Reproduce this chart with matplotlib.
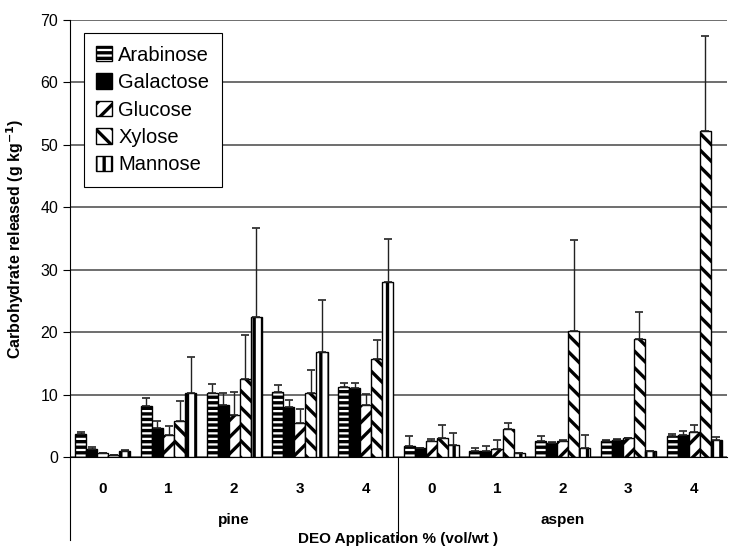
import numpy as np
import matplotlib
matplotlib.use('Agg')
import matplotlib.pyplot as plt
from matplotlib.transforms import blended_transform_factory

plt.rcParams['font.family'] = ['Liberation Sans', 'DejaVu Sans']
plt.rcParams['hatch.linewidth'] = 2.4
plt.rcParams['hatch.color'] = 'black'

# groups: pine 0-4, aspen 0-4
woods = ['pine', 'aspen']
doses = ['0', '1', '2', '3', '4']
sugars = ['Arabinose', 'Galactose', 'Glucose', 'Xylose', 'Mannose']

arabinose = [3.7, 8.1, 10.3, 10.4, 11.2, 1.7, 1.0, 2.5, 2.6, 3.4]
galactose = [1.3, 4.7, 8.4, 8.0, 11.1, 1.4, 1.0, 2.3, 2.7, 3.5]
glucose = [0.7, 3.5, 6.8, 5.4, 8.3, 2.6, 1.3, 2.6, 3.0, 4.0]
xylose = [0.4, 5.8, 12.5, 10.2, 15.7, 3.0, 4.5, 20.2, 18.9, 52.3]
mannose = [1.0, 10.3, 22.4, 16.8, 28.0, 1.9, 0.6, 1.5, 0.9, 2.7]

arabinose_err = [0.3, 1.4, 1.4, 1.1, 0.7, 1.6, 0.5, 0.8, 0.1, 0.3]
galactose_err = [0.3, 1.1, 1.9, 1.1, 0.7, 0.0, 0.8, 0.1, 0.2, 0.6]
glucose_err = [0.0, 1.5, 3.6, 2.3, 1.8, 0.3, 1.4, 0.2, 0.1, 1.2]
xylose_err = [0.0, 3.1, 7.1, 3.7, 3.0, 2.1, 0.9, 14.6, 4.4, 15.2]
mannose_err = [0.1, 5.7, 14.3, 8.3, 7.0, 1.9, 0.0, 2.0, 0.0, 0.5]

values = [arabinose, galactose, glucose, xylose, mannose]
errors = [arabinose_err, galactose_err, glucose_err, xylose_err, mannose_err]
colors = ['white', 'black', 'white', 'white', 'white']
hatches = ['---', None, '//', '\\\\', '||']

fig = plt.figure(figsize=(7.32, 5.52), dpi=100)
ax = fig.add_axes([0.0956, 0.172, 0.8975, 0.7917])

x = np.arange(len(woods) * len(doses))
w = 0.168
for i, s in enumerate(sugars):
    pos = x + (i - 2) * w
    ax.bar(pos, values[i], w, color=colors[i], edgecolor='black',
           linewidth=1.0, hatch=hatches[i], label=s, zorder=3)
    ax.errorbar(pos, values[i], yerr=[np.zeros(len(x)), errors[i]], fmt='none',
                ecolor='#222222', elinewidth=1, capsize=3, capthick=1.2, zorder=4)

ax.set_ylim(0, 70)
ax.set_xlim(-0.5, len(x) - 0.5)
ax.set_yticks(range(0, 71, 10))
ax.yaxis.grid(True, color='#555555', linewidth=1.2)
ax.set_axisbelow(True)
for sp in ['top', 'right']:
    ax.spines[sp].set_visible(False)
ax.tick_params(axis='y', labelsize=11.5, direction='out', length=5)
ax.set_xticks(x)
ax.set_xticklabels(doses * len(woods), fontsize=11, fontweight='bold')
ax.tick_params(axis='x', length=0, pad=18)

trans = blended_transform_factory(ax.transData, ax.transAxes)
for j, wd in enumerate(woods):
    ax.text(2 + 5 * j, -0.143, wd, transform=trans, ha='center', va='center',
            fontsize=11, fontweight='bold')
for xl in [0, 0.5]:
    ax.plot([xl, xl], [0, -0.19], transform=ax.transAxes, color='black',
            linewidth=0.8, clip_on=False)

ax.set_xlabel('DEO Application % (vol/wt )', fontsize=11, fontweight='bold')
ax.xaxis.set_label_coords(0.5, -0.172)
ax.set_ylabel('Carbohydrate released (g kg$^{\\mathbf{-1}}$)', fontsize=11.5,
              fontweight='bold', labelpad=10)

leg = ax.legend(loc='upper left', bbox_to_anchor=(0.021, 0.97), borderaxespad=0,
                fontsize=14.5, fancybox=False, edgecolor='black', framealpha=1,
                handlelength=0.8, handleheight=0.8, handletextpad=0.3,
                labelspacing=0.42, borderpad=0.62)
leg.get_frame().set_linewidth(0.8)

fig.savefig('out.png', dpi=100)
